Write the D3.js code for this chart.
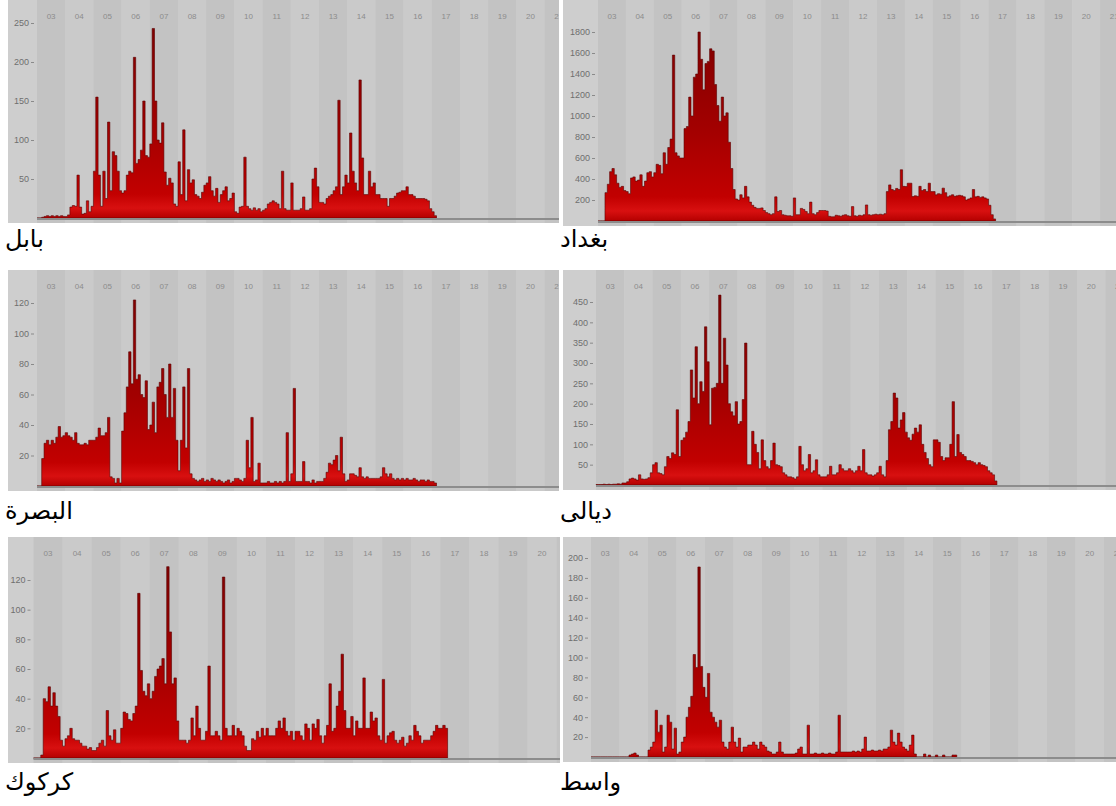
<!DOCTYPE html>
<html>
<head>
<meta charset="utf-8">
<script src="https://cdn.jsdelivr.net/npm/d3@7"></script>
<style>
    body { margin: 0; background: #ffffff; }
    svg { display: block; }
    .tick text { font-family: "Liberation Sans", Arial, sans-serif; font-size: 9px; fill: #6f6f6f; }
    .tick line { stroke: #8a8a8a; }
    .year_label { font-family: "Liberation Sans", Arial, sans-serif; font-size: 8px; fill: #8c8c8c; text-anchor: middle; }
    .gov_label { font-family: "DejaVu Sans", sans-serif; font-size: 24px; fill: #000; }
</style>
</head>
<body>
<div id="chart"></div>
<script>
// monthly counts, first value = Jan 2003
var yearLabels = ["03","04","05","06","07","08","09","10","11","12","13","14","15","16","17","18","19","20","21"];

var babil = [
    0, 0, 1, 2, 3, 2, 3, 2, 3, 2, 3, 2,
    2, 4, 14, 16, 15, 55, 14, 5, 6, 22, 8, 15,
    60, 155, 55, 15, 60, 25, 123, 35, 85, 80, 60, 35,
    32, 35, 55, 60, 58, 206, 70, 75, 87, 150, 80, 78,
    95, 243, 150, 100, 96, 122, 59, 42, 51, 45, 18, 15,
    72, 30, 113, 22, 62, 45, 49, 30, 28, 25, 33, 42,
    45, 53, 35, 28, 38, 20, 30, 35, 40, 22, 25, 32,
    8, 6, 14, 15, 78, 15, 12, 10, 13, 10, 12, 8,
    10, 12, 18, 20, 22, 20, 18, 12, 60, 12, 10, 10,
    45, 10, 10, 10, 12, 27, 10, 10, 12, 50, 64, 40,
    20, 20, 18, 25, 28, 30, 35, 40, 151, 30, 40, 55,
    45, 109, 60, 45, 35, 177, 77, 30, 30, 60, 40, 45,
    30, 30, 25, 25, 25, 15, 25, 25, 28, 32, 33, 35,
    35, 40, 30, 30, 28, 25, 25, 25, 25, 24, 22, 12,
    8, 3
];
var baghdad = [
    0, 0, 0, 270, 350, 470, 500, 440, 360, 320, 330, 290,
    280, 260, 410, 420, 380, 390, 440, 330, 380, 460, 470, 420,
    460, 540, 530, 450, 650, 540, 700, 780, 1580, 650, 620, 600,
    600, 880, 900, 1180, 1000, 1370, 1400, 1800, 1540, 1250, 1500, 1520,
    1640, 1620, 1300, 1100, 950, 1180, 1000, 1030, 750, 500, 300, 210,
    200, 250, 220, 330, 230, 180, 150, 130, 120, 120, 125, 100,
    80, 70, 60, 70, 230, 90, 100, 60, 55, 50, 50, 45,
    220, 60, 60, 120, 110, 90, 70, 180, 70, 60, 80, 100,
    100, 100, 95, 45, 40, 40, 55, 50, 45, 55, 60, 50,
    45, 137, 50, 45, 55, 50, 60, 153, 60, 55, 60, 65,
    60, 65, 60, 70, 280, 344, 300, 290, 310, 300, 488, 330,
    328, 360, 360, 233, 240, 235, 330, 290, 300, 280, 360, 280,
    280, 249, 260, 255, 313, 270, 230, 240, 250, 235, 240, 245,
    240, 230, 200, 210, 220, 300, 230, 235, 225, 230, 220, 210,
    150, 60, 20
];
var basra = [
    0, 0, 18, 28, 30, 27, 30, 28, 32, 39, 32, 33,
    35, 33, 32, 30, 35, 28, 27, 27, 28, 27, 30, 30,
    30, 32, 38, 33, 33, 35, 45, 6, 5, 2, 5, 2,
    36, 48, 65, 88, 67, 122, 70, 73, 60, 58, 69, 37,
    40, 55, 35, 65, 68, 77, 60, 45, 80, 45, 64, 30,
    10, 30, 65, 25, 77, 8, 5, 4, 3, 4, 5, 3,
    4, 3, 5, 4, 3, 4, 3, 2, 3, 4, 2, 3,
    5, 5, 4, 3, 5, 30, 12, 45, 3, 4, 15, 2,
    2, 2, 3, 2, 2, 3, 2, 3, 2, 3, 35, 3,
    8, 64, 3, 3, 3, 16, 3, 3, 2, 4, 2, 3,
    3, 3, 5, 9, 15, 14, 17, 20, 10, 32, 8, 3,
    4, 8, 8, 7, 6, 12, 6, 5, 6, 5, 5, 5,
    5, 5, 6, 12, 8, 6, 8, 5, 4, 5, 4, 5,
    4, 5, 4, 4, 5, 4, 3, 4, 4, 3, 4, 3,
    3, 2
];
var diyala = [
    1, 1, 1, 2, 1, 2, 1, 2, 2, 3, 2, 5,
    5, 8, 15, 17, 15, 12, 25, 15, 14, 15, 18, 30,
    50, 55, 30, 28, 25, 45, 70, 65, 79, 75, 185, 70,
    110, 116, 130, 156, 283, 214, 340, 200, 254, 230, 389, 303,
    148, 238, 240, 250, 467, 250, 361, 295, 200, 180, 170, 205,
    150, 156, 210, 349, 50, 50, 132, 100, 80, 40, 111, 60,
    45, 40, 60, 103, 50, 48, 45, 30, 25, 20, 20, 18,
    15, 20, 95, 50, 35, 40, 75, 30, 35, 62, 25, 20,
    20, 20, 25, 46, 25, 25, 30, 50, 40, 35, 35, 40,
    35, 30, 35, 46, 35, 87, 30, 25, 25, 22, 25, 30,
    46, 25, 20, 60, 136, 156, 226, 214, 140, 160, 178, 130,
    116, 110, 125, 140, 130, 148, 100, 80, 65, 50, 45, 111,
    111, 105, 70, 60, 67, 67, 100, 205, 70, 124, 80, 75,
    70, 60, 60, 58, 55, 50, 55, 50, 48, 45, 35, 30,
    25, 10
];
var kirkuk = [
    0, 0, 0, 2, 40, 38, 48, 35, 44, 35, 28, 12,
    8, 13, 15, 20, 13, 12, 12, 10, 8, 8, 6, 7,
    5, 5, 7, 10, 12, 8, 32, 15, 12, 19, 10, 10,
    20, 31, 30, 26, 25, 30, 35, 111, 59, 45, 42, 50,
    40, 45, 55, 60, 62, 67, 50, 129, 85, 50, 54, 25,
    12, 12, 12, 10, 12, 27, 15, 35, 20, 12, 12, 18,
    62, 15, 15, 18, 15, 12, 122, 20, 15, 15, 22, 15,
    20, 18, 15, 8, 5, 5, 13, 12, 18, 14, 20, 15,
    20, 15, 15, 15, 20, 25, 20, 27, 18, 15, 18, 12,
    18, 18, 15, 12, 23, 20, 12, 23, 20, 26, 15, 10,
    15, 22, 50, 18, 20, 35, 45, 70, 32, 20, 20, 28,
    15, 25, 20, 20, 54, 20, 20, 31, 25, 27, 15, 12,
    53, 10, 15, 17, 18, 12, 10, 12, 14, 8, 10, 15,
    12, 22, 18, 15, 10, 12, 12, 12, 15, 18, 22, 20,
    20, 22, 20
];
var wasit = [
    0, 0, 0, 0, 0, 0, 0, 0, 0, 0, 0, 0,
    0, 0, 0, 0, 2, 3, 4, 2, 0, 0, 0, 0,
    7, 10, 15, 47, 25, 32, 5, 10, 42, 35, 8, 29,
    3, 5, 15, 20, 40, 50, 61, 103, 90, 191, 91, 70,
    60, 84, 45, 40, 35, 30, 37, 15, 10, 8, 15, 30,
    15, 10, 19, 5, 10, 10, 12, 12, 15, 12, 8, 15,
    12, 10, 6, 5, 3, 3, 5, 15, 5, 3, 3, 3,
    3, 3, 4, 8, 10, 3, 3, 32, 3, 3, 4, 3,
    3, 4, 3, 3, 4, 3, 3, 5, 42, 5, 5, 5,
    5, 5, 6, 5, 6, 5, 8, 20, 6, 6, 7, 6,
    6, 7, 6, 8, 8, 10, 27, 15, 12, 24, 15, 10,
    8, 6, 12, 22, 3, 0, 0, 0, 3, 0, 2, 0,
    0, 2, 0, 0, 2, 0, 0, 0, 2, 2
];

var babilTicks = [50, 100, 150, 200, 250];
var baghdadTicks = [200, 400, 600, 800, 1000, 1200, 1400, 1600, 1800];
var basraTicks = [20, 40, 60, 80, 100, 120];
var diyalaTicks = [50, 100, 150, 200, 250, 300, 350, 400, 450];
var kirkukTicks = [20, 40, 60, 80, 100, 120];
var wasitTicks = [20, 40, 60, 80, 100, 120, 140, 160, 180, 200];

var govNames = ["بابل", "بغداد", "البصرة", "ديالى", "كركوك", "واسط"];

// layout of the six panels (2 columns x 3 rows)
var panels = [
    {values: babil,   ticks: babilTicks,   x0: 8,   x1: 559,  top: 0,   base: 218, topY: 23,  plotLeft: 37,  yearW: 28.2, labelY: 247},
    {values: baghdad, ticks: baghdadTicks, x0: 563, x1: 1116, top: 0,   base: 221, topY: 32,  plotLeft: 598, yearW: 27.9, labelY: 247},
    {values: basra,   ticks: basraTicks,   x0: 8,   x1: 559,  top: 270, base: 486, topY: 303, plotLeft: 37,  yearW: 28.2, labelY: 519},
    {values: diyala,  ticks: diyalaTicks,  x0: 563, x1: 1116, top: 270, base: 485, topY: 302, plotLeft: 596, yearW: 28.3, labelY: 519},
    {values: kirkuk,  ticks: kirkukTicks,  x0: 8,   x1: 560,  top: 537, base: 758, topY: 580, plotLeft: 33.5, yearW: 29.06, labelY: 790},
    {values: wasit,   ticks: wasitTicks,   x0: 563, x1: 1116, top: 537, base: 757, topY: 558, plotLeft: 591, yearW: 28.5, labelY: 790}
];

var svg = d3.select("#chart").append("svg")
    .attr("width", 1116)
    .attr("height", 806);

var defs = svg.append("defs");

panels.forEach(function(p, n) {
    var nYears = yearLabels.length;

    // x scale in fractional years
    var x = d3.scaleLinear()
        .domain([2003, 2003 + nYears])
        .range([p.plotLeft, p.plotLeft + nYears * p.yearW]);

    // y scale, top tick value sits at topY
    var topVal = p.ticks[p.ticks.length - 1];
    var y = d3.scaleLinear()
        .domain([0, topVal])
        .range([p.base, p.topY]);

    var panelBottom = p.base + 5;

    defs.append("clipPath")
        .attr("id", "clip" + n)
        .append("rect")
        .attr("x", p.x0)
        .attr("y", p.top)
        .attr("width", p.x1 - p.x0)
        .attr("height", panelBottom - p.top);

    // bar colour fades from dark at the top to bright red at the base
    var grad = defs.append("linearGradient")
        .attr("id", "grad" + n)
        .attr("gradientUnits", "userSpaceOnUse")
        .attr("x1", 0).attr("x2", 0)
        .attr("y1", p.top + 20).attr("y2", p.base);
    grad.append("stop").attr("offset", "0%").attr("stop-color", "#7d0000");
    grad.append("stop").attr("offset", "55%").attr("stop-color", "#a30000");
    grad.append("stop").attr("offset", "88%").attr("stop-color", "#c20000");
    grad.append("stop").attr("offset", "95%").attr("stop-color", "#d81010");
    grad.append("stop").attr("offset", "100%").attr("stop-color", "#b40000");

    var g = svg.append("g")
        .attr("class", "panel")
        .attr("clip-path", "url(#clip" + n + ")");

    // Panel background
    g.append("rect")
        .attr("x", p.x0)
        .attr("y", p.top)
        .attr("width", p.x1 - p.x0)
        .attr("height", panelBottom - p.top)
        .attr("fill", "#cecece");

    // Year bands
    g.selectAll(".band")
        .data(yearLabels)
        .enter().append("rect")
        .attr("class", "band")
        .attr("x", function(d, i) { return x(2003 + i); })
        .attr("y", p.top)
        .attr("width", p.yearW)
        .attr("height", panelBottom - p.top)
        .attr("fill", function(d, i) { return i % 2 === 0 ? "#c3c3c3" : "#cacaca"; });

    // Year labels (skip a label whose centre falls well past the panel edge)
    var shownLabels = yearLabels.filter(function(d, i) {
        return x(2003 + i + 0.5) < p.x1 + 6;
    });

    g.selectAll(".year_label")
        .data(shownLabels)
        .enter().append("text")
        .attr("class", "year_label")
        .attr("x", function(d, i) { return x(2003 + i + 0.5); })
        .attr("y", p.top + 19)
        .text(function(d) { return d; });

    // monthly values as a stepped area
    var pts = p.values.map(function(v, i) { return [2003 + i / 12, v]; });
    pts.push([2003 + p.values.length / 12, p.values[p.values.length - 1]]);

    var area = d3.area()
        .curve(d3.curveStepAfter)
        .x(function(d) { return x(d[0]); })
        .y0(p.base)
        .y1(function(d) { return y(d[1]); });

    g.append("path")
        .datum(pts)
        .attr("d", area)
        .attr("fill", "url(#grad" + n + ")")
        .attr("stroke", "#5a0000")
        .attr("stroke-opacity", 0.75)
        .attr("stroke-width", 0.8);

    // base line
    g.append("line")
        .attr("x1", p.plotLeft)
        .attr("x2", p.x1)
        .attr("y1", p.base + 1)
        .attr("y2", p.base + 1)
        .attr("stroke", "#8c8c8c")
        .attr("stroke-width", 2);

    // y axis
    var yAxis = d3.axisLeft(y)
        .tickValues(p.ticks)
        .tickFormat(d3.format("d"))
        .tickSize(3)
        .tickPadding(2);

    var ax = svg.append("g")
        .attr("class", "y_axis")
        .attr("transform", "translate(" + (p.plotLeft - 3) + ",0)")
        .call(yAxis);
    ax.select(".domain").remove();

    // governorate name under the panel
    svg.append("text")
        .attr("class", "gov_label")
        .attr("x", p.x0 - 3)
        .attr("y", p.labelY)
        .text(govNames[n]);
});
</script>
</body>
</html>
